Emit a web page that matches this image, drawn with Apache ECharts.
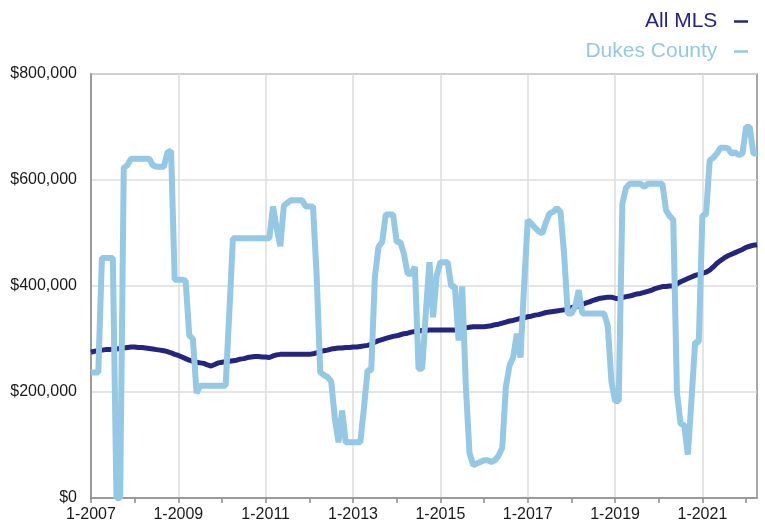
<!DOCTYPE html>
<html>
<head>
<meta charset="utf-8">
<script src="https://cdn.jsdelivr.net/npm/echarts@6/dist/echarts.min.js"></script>
<style>
  html, body { margin: 0; padding: 0; background: #fff; }
  #chart { width: 765px; height: 527px; }
</style>
</head>
<body>
<div id="chart"></div>
<script>
// monthly values in thousands of dollars, Jan 2007 .. Apr 2022 (one row per year)
var allMls = [
  275, 277, 278, 279, 280, 280, 281, 281, 282, 283, 284, 285,
  285, 284, 284, 283, 282, 281, 280, 279, 278, 276, 274, 271,
  269, 266, 263, 260, 258, 256, 255, 254, 251, 249, 252, 255,
  256, 257, 258, 259, 260, 262, 263, 265, 266, 267, 267, 266,
  266, 265, 268, 270, 271, 271, 271, 271, 271, 271, 271, 271,
  271, 272, 274, 276, 278, 279, 281, 282, 283, 283, 284, 284,
  285, 285, 286, 287, 288, 290, 294, 297, 299, 301, 303, 305,
  306, 308, 310, 311, 313, 314, 315, 316, 316, 317, 317, 317,
  317, 317, 317, 317, 317, 318, 320, 321, 322, 323, 323, 323,
  323, 324, 325, 327, 328, 330, 332, 334, 335, 337, 339, 340,
  342, 343, 345, 346, 348, 350, 351, 352, 353, 354, 355, 357,
  359, 361, 362, 365, 368, 370, 373, 375, 377, 378, 379, 379,
  377, 376, 378, 380, 381, 383, 385, 386, 388, 390, 392, 395,
  397, 399, 399, 400, 400, 404, 408, 411, 414, 417, 420, 422,
  424, 426, 430, 436, 443, 448, 453, 457, 460, 463, 466, 469,
  473, 475, 477, 478
];

var dukesCounty = [
  237, 237, 237, 453, 453, 453, 453, 0, 0, 623, 628, 640,
  640, 640, 640, 640, 640, 628, 625, 625, 625, 652, 655, 412,
  412, 412, 410, 307, 300, 198, 212, 212, 212, 212, 212, 212,
  212, 212, 350, 490, 490, 490, 490, 490, 490, 490, 490, 490,
  490, 490, 550, 510, 475, 552, 557, 562, 562, 562, 562, 550,
  550, 550, 420, 237, 232, 228, 220, 150, 105, 165, 105, 105,
  105, 105, 105, 170, 241, 241, 417, 474, 483, 535, 535, 535,
  483, 483, 460, 423, 423, 436, 244, 244, 350, 445, 341, 420,
  445, 445, 445, 399, 399, 297, 399, 210, 85, 62, 65, 68,
  71, 71, 68, 71, 80, 95, 210, 250, 265, 310, 265, 400,
  524, 518, 510, 503, 499, 520, 537, 540, 547, 540, 460, 348,
  348, 360, 392, 348, 348, 348, 348, 348, 348, 348, 325, 220,
  183, 183, 555, 585, 593, 593, 593, 593, 587, 593, 593, 593,
  593, 593, 543, 532, 525, 200, 140, 138, 82, 185, 294, 294,
  533, 535, 637, 642, 650, 661, 661, 660, 650, 652, 647, 650,
  700, 700, 650, 650
];

var firstYear = 2007;
var months = [];
for (var i = 0; i < allMls.length; i++) {
  months.push((i % 12 + 1) + '-' + (firstYear + Math.floor(i / 12)));
}

var yTicks = [0, 200, 400, 600, 800];

var chart = echarts.init(document.getElementById('chart'));
var fontFamily = '"Liberation Sans", Arial, sans-serif';

chart.setOption({
  animation: false,
  textStyle: { fontFamily: fontFamily },
  legend: {
    orient: 'vertical',
    right: 12,
    top: 6,
    align: 'right',
    icon: 'rect',
    itemWidth: 14,
    itemHeight: 2.5,
    itemGap: 9,
    formatter: function (name) { return name + '  '; },
    textStyle: { fontSize: 21, fontFamily: fontFamily },
    data: [
      { name: 'All MLS', textStyle: { color: '#25257f' } },
      { name: 'Dukes County', textStyle: { color: '#95c8e4' } }
    ]
  },
  grid: {
    left: 91,
    right: 8,
    top: 74,
    bottom: 29,
    show: true,
    borderColor: '#8a8a8a',
    borderWidth: 1.5
  },
  xAxis: {
    type: 'category',
    data: months,
    boundaryGap: false,
    axisLine: { lineStyle: { color: '#8a8a8a', width: 1.5 } },
    axisTick: {
      length: 5,
      interval: function (i) { return i % 12 === 0; },
      lineStyle: { color: '#8a8a8a', width: 1.5 }
    },
    axisLabel: {
      interval: function (i) { return i % 24 === 0; },
      margin: 9,
      fontSize: 16,
      color: '#1a1a1a',
      fontFamily: fontFamily
    },
    splitLine: {
      show: true,
      interval: function (i) { return i % 24 === 0; },
      lineStyle: { color: '#dcdcdc', width: 1.5 }
    }
  },
  yAxis: {
    type: 'value',
    min: yTicks[0],
    max: yTicks[yTicks.length - 1],
    interval: 200,
    axisLine: { show: true, lineStyle: { color: '#8a8a8a', width: 1.5 } },
    axisTick: { show: false },
    axisLabel: {
      margin: 14,
      fontSize: 16,
      color: '#1a1a1a',
      fontFamily: fontFamily,
      formatter: function (v) { return v === 0 ? '$0' : '$' + v + ',000'; }
    },
    splitLine: { lineStyle: { color: '#dcdcdc', width: 1.5 } }
  },
  series: [
    {
      name: 'All MLS',
      type: 'line',
      data: allMls,
      showSymbol: false,
      color: '#25257f',
      lineStyle: { width: 5, color: '#25257f' }
    },
    {
      name: 'Dukes County',
      type: 'line',
      data: dukesCounty,
      showSymbol: false,
      color: '#95c8e4',
      lineStyle: { width: 6, color: '#95c8e4' }
    }
  ]
});
</script>
</body>
</html>
